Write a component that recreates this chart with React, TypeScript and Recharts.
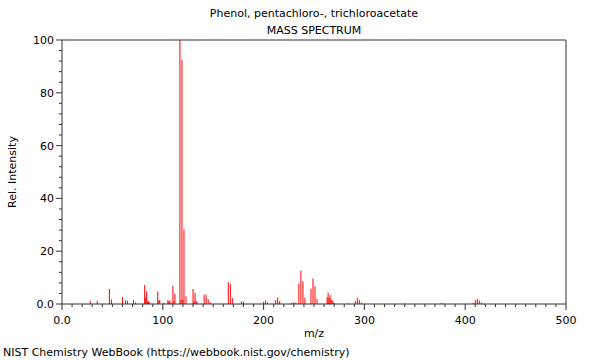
import React from 'react';
import { BarChart, Bar, XAxis, YAxis, ReferenceLine } from 'recharts';

const titleLine1 = 'Phenol, pentachloro-, trichloroacetate';
const titleLine2 = 'MASS SPECTRUM';
const xAxisTitle = 'm/z';
const yAxisTitle = 'Rel. Intensity';
const footerText = 'NIST Chemistry WebBook (https://webbook.nist.gov/chemistry)';

const mzValues = [
  28, 35, 47, 49, 60, 63, 65, 71, 73, 82, 83, 84, 85, 86, 87, 95, 96, 97, 101, 105,
  106, 107, 108, 110, 111, 112, 117, 118, 119, 120, 121, 123, 130, 131, 132, 133, 134,
  141, 143, 145, 147, 165, 167, 169, 178, 180, 200, 202, 204, 212, 214, 216, 228, 230,
  232, 235, 237, 239, 241, 247, 249, 251, 253, 263, 264, 265, 266, 267, 268, 269, 270,
  284, 291, 293, 295, 297, 340, 376, 378, 408, 410, 412, 414, 416,
];
const intensities = [
  1.1, 1.1, 5.7, 1.7, 2.6, 1.3, 1.2, 1.6, 0.6, 7.2, 2.3, 4.8, 1.0, 1.0, 0.6, 4.7, 1.2, 1.6, 0.5, 1.4,
  1.0, 1.3, 0.6, 6.9, 1.0, 3.8, 100, 1.5, 92.5, 1.5, 28.2, 2.9, 5.7, 1.0, 4.2, 1.2, 0.8,
  3.5, 3.5, 1.8, 0.7, 8.2, 7.6, 2.2, 0.9, 0.9, 0.8, 1.3, 0.6, 1.5, 2.4, 1.1, 0.5, 0.7,
  0.5, 7.7, 12.6, 8.6, 2.5, 5.8, 9.7, 6.7, 2.0, 2.6, 4.4, 2.4, 3.4, 1.5, 1.5, 0.8, 0.4,
  0.3, 1.1, 2.4, 1.5, 0.5, 0.3, 0.3, 0.3, 0.5, 1.4, 1.9, 1.3, 0.5,
];

const xMajorTicks = [0, 100, 200, 300, 400, 500];
const xTickLabels = ['0.0', '100', '200', '300', '400', '500'];
const yMajorTicks = [0, 20, 40, 60, 80, 100];
const yTickLabels = ['0.0', '20', '40', '60', '80', '100'];
const xMinorStep = 10;
const yMinorStep = 4;

const xAllTicks: number[] = [];
for (let v = 0; v <= 500; v += xMinorStep) xAllTicks.push(v);
const yAllTicks: number[] = [];
for (let v = 0; v <= 100; v += yMinorStep) yAllTicks.push(v);

const data = mzValues.map((mz, i) => ({ mz, intensity: intensities[i] }));

const FONT = '"DejaVu Sans", sans-serif';
const AXIS = '#333';

const XTick = (props: any) => {
  const { x, y, payload } = props;
  const idx = xMajorTicks.indexOf(payload.value);
  const major = idx >= 0;
  return (
    <g>
      <line x1={x} x2={x} y1={y} y2={y + (major ? 6 : 3)} stroke={AXIS} strokeWidth={1} />
      {major && (
        <text x={x} y={y + 20} textAnchor="middle" fontSize={11} fill="#000" fontFamily={FONT}>
          {xTickLabels[idx]}
        </text>
      )}
    </g>
  );
};

const YTick = (props: any) => {
  const { x, y, payload } = props;
  const idx = yMajorTicks.indexOf(payload.value);
  const major = idx >= 0;
  return (
    <g>
      <line x1={x - (major ? 6 : 3)} x2={x} y1={y} y2={y} stroke={AXIS} strokeWidth={1} />
      {major && (
        <text x={x - 8} y={y + 4} textAnchor="end" fontSize={11} fill="#000" fontFamily={FONT}>
          {yTickLabels[idx]}
        </text>
      )}
    </g>
  );
};

const textStyle: React.CSSProperties = {
  position: 'absolute',
  fontFamily: FONT,
  fontSize: 11,
  color: '#000',
  whiteSpace: 'nowrap',
  lineHeight: '13px',
};

export default function App() {
  return (
    <div style={{ position: 'absolute', left: 0, top: 0, width: 600, height: 360, background: '#fff' }}>
      <BarChart
        width={600}
        height={360}
        data={data}
        margin={{ top: 40, right: 34, bottom: 0, left: 0 }}
      >
        <XAxis
          dataKey="mz"
          type="number"
          domain={[0, 500]}
          ticks={xAllTicks}
          interval={0}
          tickSize={0}
          tickMargin={0}
          tickLine={false}
          tick={<XTick />}
          height={56}
          axisLine={{ stroke: AXIS }}
          allowDataOverflow
        />
        <YAxis
          type="number"
          domain={[0, 100]}
          ticks={yAllTicks}
          interval={0}
          tickSize={0}
          tickMargin={0}
          tickLine={false}
          tick={<YTick />}
          width={62}
          axisLine={{ stroke: AXIS }}
          allowDataOverflow
        />
        <ReferenceLine y={100} stroke={AXIS} />
        <ReferenceLine x={500} stroke={AXIS} />
        <Bar dataKey="intensity" fill="#ff0000" barSize={1} isAnimationActive={false} />
      </BarChart>
      <div style={{ ...textStyle, left: 314, top: 7, transform: 'translateX(-50%)' }}>{titleLine1}</div>
      <div style={{ ...textStyle, left: 314, top: 24, transform: 'translateX(-50%)' }}>{titleLine2}</div>
      <div style={{ ...textStyle, left: 314, top: 327, transform: 'translateX(-50%)' }}>{xAxisTitle}</div>
      <div
        style={{
          ...textStyle,
          left: 12,
          top: 172,
          transform: 'translate(-50%, -50%) rotate(-90deg)',
        }}
      >
        {yAxisTitle}
      </div>
      <div style={{ ...textStyle, left: 3, top: 346 }}>{footerText}</div>
    </div>
  );
}
